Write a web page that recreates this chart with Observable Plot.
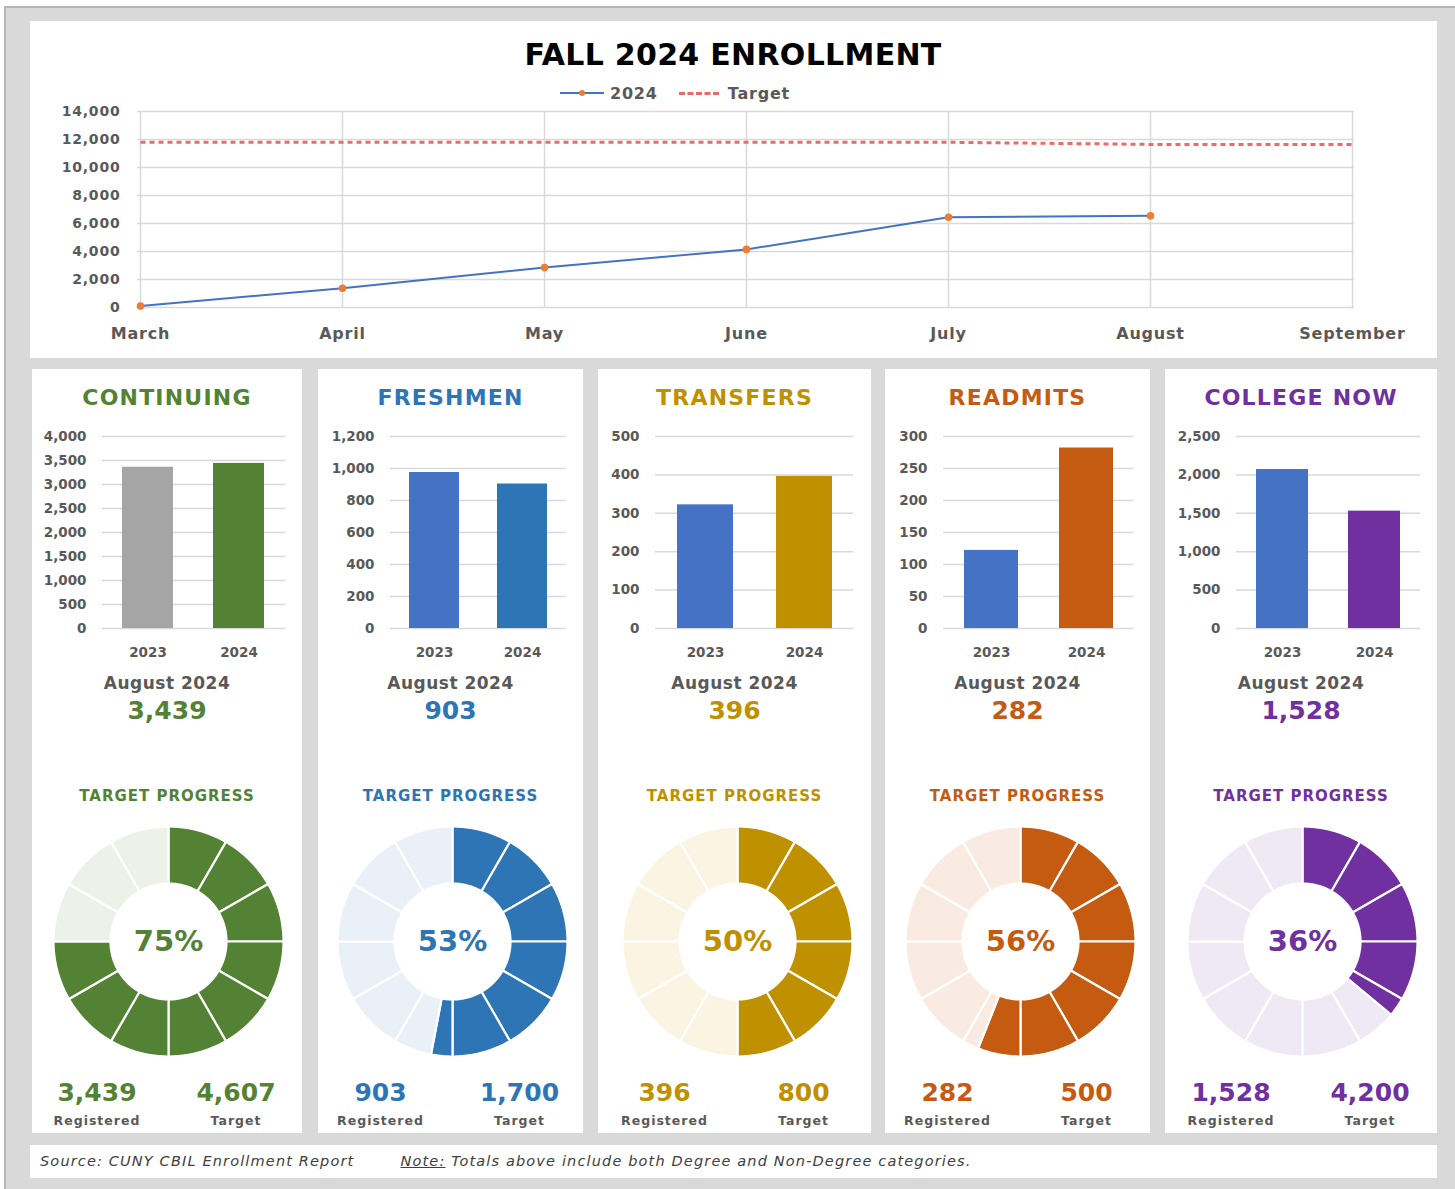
<!DOCTYPE html>
<html>
<head>
<meta charset="utf-8">
<script src="https://cdn.jsdelivr.net/npm/d3@7"></script>
<script src="https://cdn.jsdelivr.net/npm/@observablehq/plot@0.6"></script>
<style>
  html, body { margin: 0; padding: 0; }
  body { width: 1455px; height: 1189px; position: relative; overflow: hidden; background: #ffffff; font-family: "DejaVu Sans", sans-serif; }
  #frame { position: absolute; left: 4px; top: 6px; right: 0; bottom: 0; background: #d9d9d9; border-left: 2px solid #b5b5b5; border-top: 2px solid #b5b5b5; }
  .panel { position: absolute; background: #ffffff; }
  .t { position: absolute; white-space: nowrap; transform: translate(-50%, -50%); line-height: 1; font-weight: bold; }
  .plot { position: absolute; }
  .plot svg { overflow: visible; }
</style>
</head>
<body>
<div id="frame"></div>
<script>
// ---------------- DATA ----------------
const months = ["March", "April", "May", "June", "July", "August", "September"];
const enrolled2024 = [100, 1380, 2850, 4150, 6450, 6548];          // March..August
const targetByMonth = [11800, 11800, 11800, 11800, 11800, 11650, 11650];
const topTicks = [0, 2000, 4000, 6000, 8000, 10000, 12000, 14000];

const categories = ["CONTINUING", "FRESHMEN", "TRANSFERS", "READMITS", "COLLEGE NOW"];
const years = ["2023", "2024"];
const values2023 = [3360, 975, 322, 122, 2070];
const values2024 = [3439, 903, 396, 282, 1528];
const targets = [4607, 1700, 800, 500, 4200];
const barTicks = [
  [0, 500, 1000, 1500, 2000, 2500, 3000, 3500, 4000],
  [0, 200, 400, 600, 800, 1000, 1200],
  [0, 100, 200, 300, 400, 500],
  [0, 50, 100, 150, 200, 250, 300],
  [0, 500, 1000, 1500, 2000, 2500]
];
const monthLabel = "August 2024";
const title = "FALL 2024 ENROLLMENT";
const legendLabels = ["2024", "Target"];
const sourceText = "Source: CUNY CBIL Enrollment Report";
const noteLabel = "Note:";
const noteText = " Totals above include both Degree and Non-Degree categories.";

// ---------------- STYLES / LAYOUT ----------------
const mainColors = ["#548235", "#2e75b6", "#bf9000", "#c55a11", "#7030a0"];
const colors2023 = ["#a5a5a5", "#4472c4", "#4472c4", "#4472c4", "#4472c4"];
const lightColors = ["#edf2e9", "#e9f0f8", "#fbf4e3", "#faebe2", "#efe8f5"];
const grey = "#595959";
const gridColor = "#d9d9d9";
const panelX = [[32, 302], [318, 583], [598, 871], [885, 1150], [1165, 1437]];
const gridX = [[102, 285], [390, 566], [655, 853], [943, 1133], [1236, 1420]];
const donutCx = [168, 452, 737, 1020, 1302];
const fmt = d3.format(",");

function addDiv(cls, x, y, w, h) {
  const d = document.createElement("div");
  d.className = cls;
  Object.assign(d.style, {left: x + "px", top: y + "px", width: w + "px", height: h + "px"});
  document.body.appendChild(d);
  return d;
}
function text(str, x, y, style) {
  const d = document.createElement("div");
  d.className = "t";
  d.textContent = str;
  d.style.left = x + "px";
  d.style.top = y + "px";
  Object.assign(d.style, style || {});
  document.body.appendChild(d);
  return d;
}
function placePlot(svg, x, y) {
  const d = document.createElement("div");
  d.className = "plot";
  d.style.left = x + "px";
  d.style.top = y + "px";
  d.appendChild(svg);
  document.body.appendChild(d);
}

// Panels
addDiv("panel", 30, 21, 1407, 337);
panelX.forEach(([a, b]) => addDiv("panel", a, 369, b - a, 764));
addDiv("panel", 30, 1145, 1407, 33);

// ---------------- TOP LINE CHART ----------------
text(title, 733, 55, {fontSize: "30px", color: "#000", letterSpacing: "0.3px"});

// legend
(function legend() {
  const lg = document.createElement("div");
  Object.assign(lg.style, {position: "absolute", left: "560px", top: "83px", height: "20px", display: "flex", alignItems: "center", fontWeight: "bold", fontSize: "16px", color: grey, letterSpacing: "0.8px"});
  lg.innerHTML =
    `<span style="position:relative;display:inline-block;width:44px;height:2px;background:#4472c4;margin-right:6px">
       <span style="position:absolute;left:19px;top:-2.5px;width:6px;height:6px;border-radius:50%;background:#ed7d31"></span></span>
     <span>${legendLabels[0]}</span>
     <span style="display:inline-block;width:40px;height:0;border-top:3px dashed #f06868;margin:0 9px 0 21px"></span>
     <span>${legendLabels[1]}</span>`;
  document.body.appendChild(lg);
})();

const lineData = enrolled2024.map((v, i) => ({month: months[i], value: v}));
const targetData = targetByMonth.map((v, i) => ({month: months[i], value: v}));

const topPlot = Plot.plot({
  width: 1407, height: 247,
  marginLeft: 109, marginRight: 81, marginTop: 11, marginBottom: 40,
  x: {type: "point", domain: months, padding: 0, label: null},
  y: {domain: [0, 14000], label: null},
  style: {fontFamily: "DejaVu Sans", fontWeight: "bold", color: grey, background: "transparent"},
  marks: [
    Plot.gridY(topTicks, {stroke: gridColor, strokeOpacity: 1, strokeWidth: 1.5}),
    Plot.gridX(months, {stroke: gridColor, strokeOpacity: 1, strokeWidth: 1.5}),
    Plot.axisY(topTicks, {tickSize: 0, tickPadding: 17, tickFormat: fmt, fontSize: 14, label: null}),
    Plot.axisX(months, {tickSize: 0, tickPadding: 20, fontSize: 16, label: null}),
    Plot.line(targetData, {x: "month", y: "value", stroke: "#f06868", strokeWidth: 3, strokeDasharray: "5,4", strokeLinecap: "butt"}),
    Plot.line(lineData, {x: "month", y: "value", stroke: "#4472c4", strokeWidth: 2}),
    Plot.dot(lineData, {x: "month", y: "value", fill: "#ed7d31", r: 3.8})
  ]
});
topPlot.style.letterSpacing = "0.8px";
placePlot(topPlot, 28, 100);

// ---------------- CATEGORY PANELS ----------------
function donutData(frac) {
  const end = frac * 360;
  let bounds = d3.range(0, 361, 30);
  if (!bounds.includes(end)) bounds.push(end);
  bounds.sort((a, b) => a - b);
  const R = 115, r0 = 58;
  const pts = [];
  for (let k = 0; k < bounds.length - 1; k++) {
    const a0 = bounds[k], a1 = bounds[k + 1];
    const kind = a1 <= end + 1e-9 ? "done" : "rest";
    const n = Math.max(2, Math.ceil((a1 - a0) / 1));
    for (let j = 0; j <= n; j++) {
      const a = (a0 + (a1 - a0) * j / n) * Math.PI / 180;
      pts.push({id: k, kind, x: R * Math.sin(a), y: R * Math.cos(a)});
    }
    for (let j = n; j >= 0; j--) {
      const a = (a0 + (a1 - a0) * j / n) * Math.PI / 180;
      pts.push({id: k, kind, x: r0 * Math.sin(a), y: r0 * Math.cos(a)});
    }
  }
  return pts;
}

categories.forEach((cat, i) => {
  const pc = (panelX[i][0] + panelX[i][1]) / 2;
  const col = mainColors[i];
  text(cat, pc, 398, {fontSize: "22px", color: col, letterSpacing: "1.2px"});

  // bar chart
  const [g0, g1] = gridX[i];
  const ml = 75, mr = 4;
  const bars = years.map((y, k) => ({year: y, value: k === 0 ? values2023[i] : values2024[i]}));
  const ticks = barTicks[i];
  const barPlot = Plot.plot({
    width: g1 - g0 + ml + mr, height: 238,
    marginLeft: ml, marginRight: mr, marginTop: 10, marginBottom: 36,
    x: {type: "band", domain: years, paddingInner: 0.435, paddingOuter: 0.217, label: null},
    y: {domain: [0, ticks[ticks.length - 1]], label: null},
    color: {domain: years, range: [colors2023[i], col]},
    style: {fontFamily: "DejaVu Sans", fontWeight: "bold", color: grey, background: "transparent"},
    marks: [
      Plot.gridY(ticks, {stroke: gridColor, strokeOpacity: 1, strokeWidth: 1.5}),
      Plot.barY(bars, {x: "year", y: "value", fill: "year"}),
      Plot.axisY(ticks, {tickSize: 0, tickPadding: 16, tickFormat: fmt, fontSize: 13.5, label: null}),
      Plot.axisX(years, {tickSize: 0, tickPadding: 19, fontSize: 13.5, label: null})
    ]
  });
  placePlot(barPlot, g0 - ml, 426);

  text(monthLabel, pc, 683, {fontSize: "17px", color: grey, letterSpacing: "0.5px"});
  text(fmt(values2024[i]), pc, 710, {fontSize: "25px", color: col});

  text("TARGET PROGRESS", pc, 796, {fontSize: "15px", color: col, letterSpacing: "1px"});

  const pctValue = Math.round(values2024[i] / targets[i] * 100);
  const pct = pctValue + "%";
  const donut = Plot.plot({
    width: 240, height: 240, margin: 0,
    x: {domain: [-120, 120], axis: null},
    y: {domain: [-120, 120], axis: null},
    color: {domain: ["done", "rest"], range: [col, lightColors[i]]},
    style: {fontFamily: "DejaVu Sans", fontWeight: "bold", background: "transparent"},
    marks: [
      Plot.line(donutData(pctValue / 100), {x: "x", y: "y", z: "id", fill: "kind", stroke: "#ffffff", strokeWidth: 2.2, curve: "linear-closed"}),
      Plot.text([{x: 0, y: 0, label: pct}], {x: "x", y: "y", text: "label", fill: col, fontSize: 29, fontWeight: "bold"})
    ]
  });
  placePlot(donut, donutCx[i] - 120, 941 - 120);

  text(fmt(values2024[i]), pc - 70, 1092, {fontSize: "25px", color: col});
  text(fmt(targets[i]), pc + 69, 1092, {fontSize: "25px", color: col});
  text("Registered", pc - 70, 1121, {fontSize: "12.5px", color: grey, letterSpacing: "1px"});
  text("Target", pc + 69, 1121, {fontSize: "12.5px", color: grey, letterSpacing: "1px"});
});

// ---------------- FOOTER ----------------
(function footer() {
  const f = document.createElement("div");
  Object.assign(f.style, {position: "absolute", left: "40px", top: "1152px", fontSize: "14.5px", fontStyle: "italic", color: "#404040", whiteSpace: "nowrap", letterSpacing: "1.15px", lineHeight: "18px"});
  const s = document.createElement("span");
  s.textContent = sourceText;
  const n = document.createElement("span");
  n.textContent = noteLabel;
  n.style.textDecoration = "underline";
  n.style.marginLeft = "46px";
  const t = document.createElement("span");
  t.textContent = noteText;
  f.append(s, n, t);
  document.body.appendChild(f);
})();
</script>
</body>
</html>
